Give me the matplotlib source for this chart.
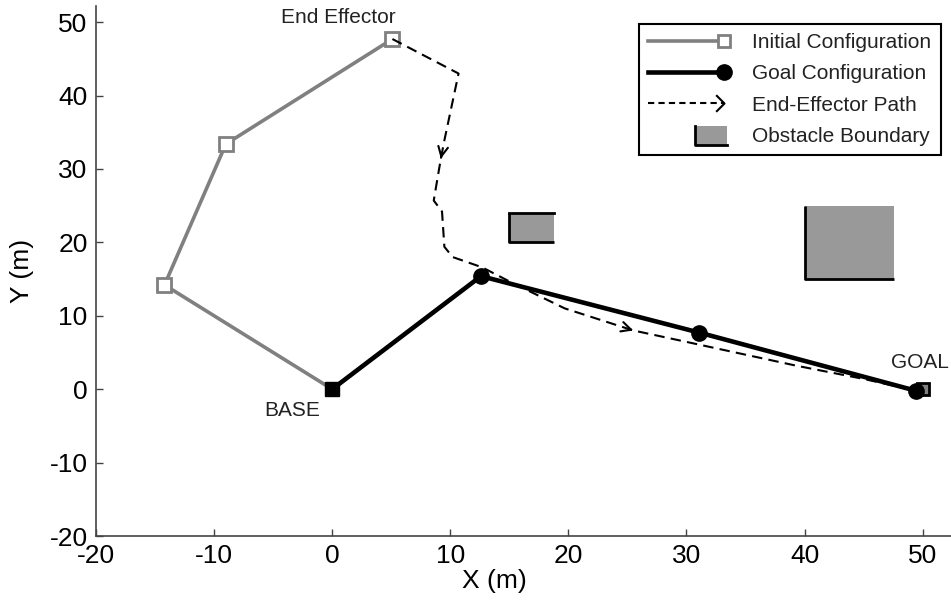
import numpy as np
import matplotlib
matplotlib.use("Agg")
import matplotlib.pyplot as plt
from matplotlib.lines import Line2D
from matplotlib.patches import Rectangle
from matplotlib.path import Path
from matplotlib.legend_handler import HandlerLine2D

plt.rcParams["font.family"] = ["Liberation Sans", "DejaVu Sans"]
plt.rcParams["axes.unicode_minus"] = False

# arm joints (m)
init_x = [0, -14.2, -9.0, 5.1]
init_y = [0, 14.2, 33.4, 47.7]
goal_x = [0, 12.6, 31.1, 49.4]
goal_y = [0, 15.4, 7.7, -0.2]

base_xy = (0, 0)
goal_target = (50.0, 0.0)

# end-effector path
path_x = [5.1, 10.7, 9.5, 9.2, 8.6, 9.3, 9.5, 10.2, 12.7, 15.1, 19.7, 25.5, 30.7, 39.3, 45.0, 49.4]
path_y = [47.7, 43.0, 33.9, 31.4, 25.7, 24.2, 19.4, 18.0, 16.6, 14.6, 11.0, 8.0, 6.2, 3.2, 1.4, -0.2]
arrow_idx = [3, 11]

# obstacles
obs_x0 = [15.0, 40.0]
obs_x1 = [18.8, 47.6]
obs_y0 = [20.0, 15.0]
obs_y1 = [24.0, 25.0]
obs_top = [True, False]

GRAY = "#808080"
FILL = "#999999"


class EndMarkerHandler(HandlerLine2D):
    def create_artists(self, legend, orig_handle, xdescent, ydescent, width, height, fontsize, trans):
        arts = super().create_artists(legend, orig_handle, xdescent, ydescent, width, height, fontsize, trans)
        for a in arts:
            a.set_markevery([2])
        return arts


class ObstacleHandler:
    def legend_artist(self, legend, orig_handle, fontsize, handlebox):
        x0, y0 = -handlebox.xdescent, -handlebox.ydescent
        w, h = handlebox.width, handlebox.height
        tr = handlebox.get_transform()
        rect = Rectangle((x0 + 0.62 * w, y0 - 0.2 * h), 0.42 * w, 1.3 * h,
                         facecolor=FILL, edgecolor="none", transform=tr)
        edge = Line2D([x0 + 0.62 * w, x0 + 0.62 * w, x0 + 1.04 * w],
                      [y0 + 1.1 * h, y0 - 0.2 * h, y0 - 0.2 * h],
                      color="black", lw=2, transform=tr)
        handlebox.add_artist(rect)
        handlebox.add_artist(edge)
        return rect


fig = plt.figure(figsize=(9.51, 6.03), dpi=100)
ax = fig.add_axes([96 / 951, 67 / 603, 855 / 951, 530 / 603])

# obstacles
for x0, x1, y0, y1, top in zip(obs_x0, obs_x1, obs_y0, obs_y1, obs_top):
    ax.fill([x0, x1, x1, x0], [y0, y0, y1, y1], color=FILL, lw=0, zorder=1)
    ax.plot([x0, x0, x1], [y1, y0, y0], color="black", lw=2, zorder=2, solid_capstyle="butt")
    if top:
        ax.plot([x0, x1], [y1, y1], color="black", lw=2, zorder=2)

# initial configuration
ax.plot(init_x, init_y, color=GRAY, lw=2.6, marker="s", ms=9.5, mfc="white",
        mec=GRAY, mew=2, markevery=[1, 2, 3], zorder=3)

# goal target marker
ax.plot([goal_target[0]], [goal_target[1]], "s", ms=9, mfc=GRAY, mec="black", mew=2, zorder=3)

# goal configuration
ax.plot(goal_x, goal_y, color="black", lw=3.3, marker="o", ms=11, markevery=[1, 2, 3], zorder=4)
ax.plot([base_xy[0]], [base_xy[1]], "s", color="black", ms=10, zorder=5)

# end-effector path
ax.plot(path_x, path_y, color="black", lw=1.5, ls=(0, (5, 3)), zorder=6)
for i in arrow_idx:
    tip = (path_x[i], path_y[i])
    dx = path_x[i] - path_x[i - 1]
    dy = path_y[i] - path_y[i - 1]
    tail = (tip[0] - 0.05 * dx, tip[1] - 0.05 * dy)
    ax.annotate("", xy=tip, xytext=tail,
                arrowprops=dict(arrowstyle="->,head_length=0.7,head_width=0.35",
                                color="black", lw=1.5, shrinkA=0, shrinkB=0),
                zorder=7)

# labels
ax.text(0.5, 50.6, "End Effector", fontsize=15, ha="center", va="center", color="#222222")
ax.text(-3.4, -2.9, "BASE", fontsize=15, ha="center", va="center", color="#222222")
ax.text(49.8, 3.7, "GOAL", fontsize=15, ha="center", va="center", color="#222222")

ax.set_xlim(-20, 52.4)
ax.set_ylim(-20, 52.2)
ax.set_xticks(np.arange(-20, 51, 10))
ax.set_yticks(np.arange(-20, 51, 10))
ax.spines["top"].set_visible(False)
ax.spines["right"].set_visible(False)
for s in ["left", "bottom"]:
    ax.spines[s].set_color("#444444")
    ax.spines[s].set_linewidth(1.2)
ax.tick_params(direction="in", length=5, width=1, color="#444444", labelsize=19, pad=6)

ax.set_xlabel("X (m)", fontsize=19)
ax.set_ylabel("Y (m)", fontsize=19)
ax.xaxis.set_label_coords(0.4655, -0.062)
ax.yaxis.set_label_coords(-0.072, 0.5)

arrow_marker = Path([(-1, 1), (0, 0), (-1, -1)], [Path.MOVETO, Path.LINETO, Path.LINETO])
h_init = Line2D([], [], color=GRAY, lw=2.6, marker="s", ms=8, mfc="white", mec=GRAY, mew=2)
h_goal = Line2D([], [], color="black", lw=3.3, marker="o", ms=11)
h_path = Line2D([], [], color="black", lw=1.5, ls=(0, (3, 2)), marker=arrow_marker,
                ms=12, mfc="none", mec="black", mew=1.5)
h_obs = Rectangle((0, 0), 1, 1)

leg = ax.legend([h_init, h_goal, h_path, h_obs],
                ["Initial Configuration", "Goal Configuration", "End-Effector Path", "Obstacle Boundary"],
                handler_map={Line2D: EndMarkerHandler(), Rectangle: ObstacleHandler()},
                loc="upper right", bbox_to_anchor=(0.988, 0.966), borderaxespad=0,
                fontsize=15, numpoints=1, handlelength=3.65, handletextpad=1.35,
                labelspacing=0.58, borderpad=0.45, fancybox=False, framealpha=1)
leg.get_frame().set_edgecolor("black")
leg.get_frame().set_linewidth(1.5)
for t in leg.get_texts():
    t.set_color("#222222")

fig.savefig("out.png", dpi=100)
